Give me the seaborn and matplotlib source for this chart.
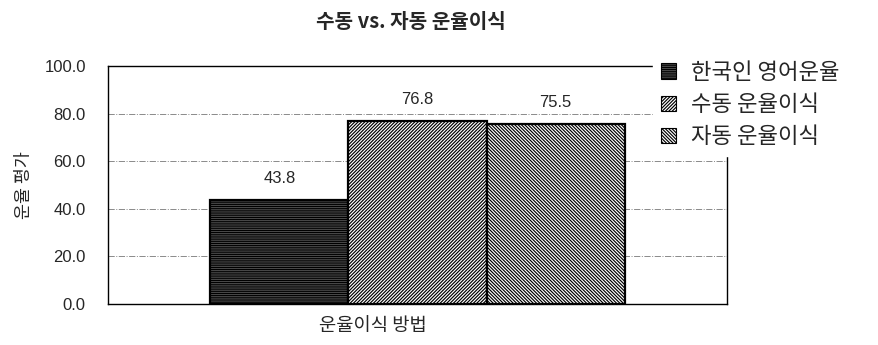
import matplotlib
matplotlib.use("Agg")
import matplotlib.pyplot as plt
from matplotlib.patches import Patch
import seaborn as sns
import pandas as pd

# ---- data ----
category = ["운율이식 방법"]
series = ["한국인 영어운율", "수동 운율이식", "자동 운율이식"]
values = [43.8, 76.8, 75.5]
yticks = [0.0, 20.0, 40.0, 60.0, 80.0, 100.0]
title = "수동 vs. 자동 운율이식"
xlabel = "운율이식 방법"
ylabel = "운율 평가"

face_colors = ["#6a6a6a", "white", "white"]
hatches = ["-" * 9, "/" * 10, "\\" * 10]

sns.set_theme(style="white")
plt.rcParams["font.family"] = ["Noto Sans CJK KR", "DejaVu Sans"]
plt.rcParams["hatch.linewidth"] = 0.85

df = pd.DataFrame({"method": category * len(series), "series": series, "value": values})

fig = plt.figure(figsize=(8.79, 3.45), dpi=100)
ax = fig.add_axes([108 / 879, 1 - 304 / 345, (727 - 108) / 879, (304 - 66) / 345])

sns.barplot(data=df, x="method", y="value", hue="series", hue_order=series,
            palette=face_colors, width=0.67, edgecolor="black", linewidth=1.6,
            saturation=1, legend=False, ax=ax, zorder=3)

for patch, h in zip(ax.patches, hatches):
    patch.set_hatch(h)
    patch.set_edgecolor("black")

num_font = ["Liberation Sans", "DejaVu Sans"]
for cont in ax.containers:
    ax.bar_label(cont, fmt="%.1f", padding=10, fontsize=12, family=num_font)

ax.set_ylim(0, 100)
ax.set_yticks(yticks)
ax.set_yticklabels([f"{v:.1f}" for v in yticks], family=num_font, fontsize=12)
ax.set_xticks([])
ax.tick_params(axis="y", length=0, pad=16)
ax.grid(axis="y", color="#8a8a8a", linestyle="-.", linewidth=0.7, zorder=0)
ax.set_axisbelow(True)
for s in ax.spines.values():
    s.set_color("black")
    s.set_linewidth(1.0)
    s.set_visible(True)

ax.set_xlabel(xlabel, fontsize=13.5)
ax.xaxis.set_label_coords((373 - 108) / (727 - 108), -0.045, transform=ax.transAxes)
ax.xaxis.label.set_va("top")
ax.set_ylabel(ylabel, fontsize=12.5, labelpad=8)

fig.text(411 / 879, 1 - 21 / 345, title, ha="center", va="center", fontsize=14.5, fontweight="bold")

handles = [Patch(facecolor=fc, edgecolor="black", hatch=h, linewidth=0.8)
           for fc, h in zip(face_colors, hatches)]
leg = ax.legend(handles, series, loc="upper left", bbox_to_anchor=(653 / 879, 1 - 53 / 345),
                bbox_transform=fig.transFigure, frameon=True, fancybox=False,
                facecolor="white", edgecolor="white", framealpha=1, fontsize=16,
                handlelength=0.7, handleheight=0.7, handletextpad=0.65,
                labelspacing=0.42, borderpad=0.35, borderaxespad=0)

fig.savefig("out.png", dpi=100)
